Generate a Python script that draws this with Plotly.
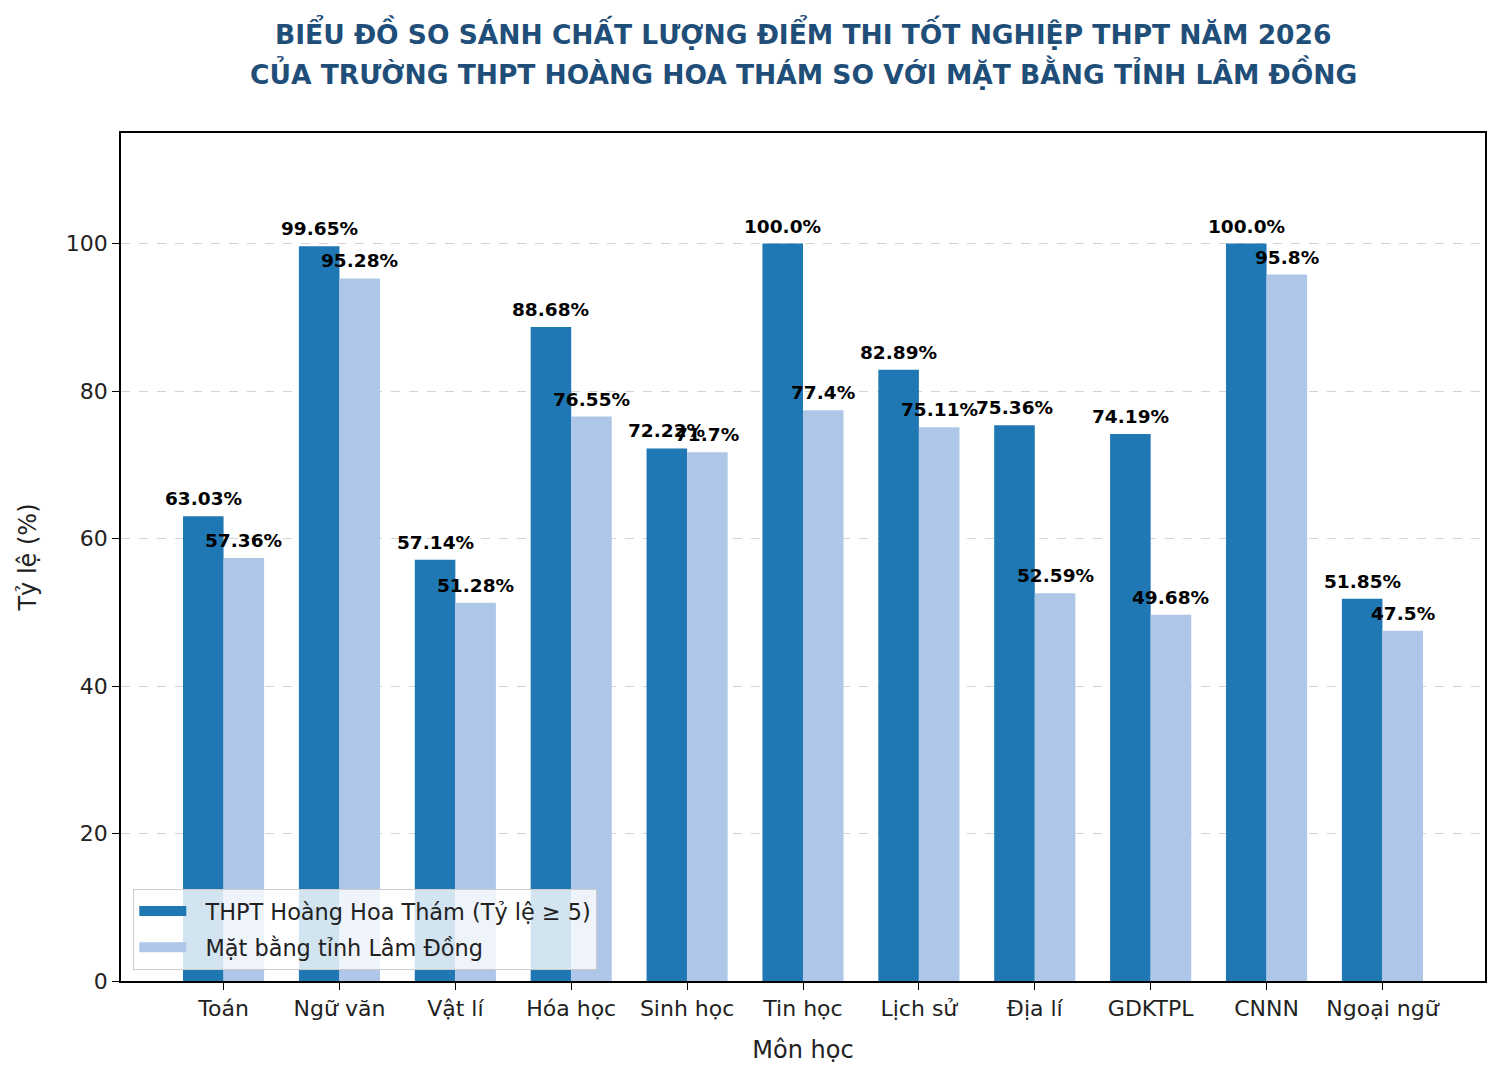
import plotly.graph_objects as go

categories = ["Toán", "Ngữ văn", "Vật lí", "Hóa học", "Sinh học", "Tin học",
              "Lịch sử", "Địa lí", "GDKTPL", "CNNN", "Ngoại ngữ"]
school = [63.03, 99.65, 57.14, 88.68, 72.22, 100.0, 82.89, 75.36, 74.19, 100.0, 51.85]
province = [57.36, 95.28, 51.28, 76.55, 71.7, 77.4, 75.11, 52.59, 49.68, 95.8, 47.5]
yticks = [0, 20, 40, 60, 80, 100]
series_names = ["THPT Hoàng Hoa Thám (Tỷ lệ ≥ 5)", "Mặt bằng tỉnh Lâm Đồng"]
colors = ["#1f77b4", "#aec7e8"]
title_lines = ["BIỂU ĐỒ SO SÁNH CHẤT LƯỢNG ĐIỂM THI TỐT NGHIỆP THPT NĂM 2026",
               "CỦA TRƯỜNG THPT HOÀNG HOA THÁM SO VỚI MẶT BẰNG TỈNH LÂM ĐỒNG"]

W = 0.35
idx = list(range(len(categories)))
x_school = [i - W / 2 for i in idx]
x_prov = [i + W / 2 for i in idx]

FONT = "DejaVu Sans"

fig = go.Figure()
for xs, vals, name, col in ((x_school, school, series_names[0], colors[0]),
                            (x_prov, province, series_names[1], colors[1])):
    fig.add_trace(go.Bar(x=xs, y=vals, width=W, name=name, showlegend=False,
                         marker=dict(color=col, line=dict(width=0))))
# legend entries drawn as wide patches (like matplotlib)
for k, (name, col) in enumerate(zip(series_names, colors)):
    fig.add_trace(go.Scatter(x=[None], y=[None], mode="lines", name="&nbsp;&nbsp;" + name,
                             legendgroup=f"g{k}",
                             line=dict(color=col, width=17)))

for xs, vals in ((x_school, school), (x_prov, province)):
    for x, v in zip(xs, vals):
        fig.add_annotation(x=x, y=v, text=f"<b>{v}%</b>", showarrow=False,
                           xanchor="center", yanchor="bottom", yshift=5,
                           font=dict(family=FONT, size=18.5, color="black"))

for line, ypos in zip(title_lines, [1.119, 1.0716]):
    fig.add_annotation(xref="paper", yref="paper", x=0.5, y=ypos, text=f"<b>{line}</b>",
                       showarrow=False, xanchor="center", yanchor="middle",
                       font=dict(family=FONT, size=26.5, color="#1f4e79"))

fig.update_layout(
    width=1500, height=1077,
    paper_bgcolor="white", plot_bgcolor="white",
    margin=dict(l=121, r=15, t=133, b=96),
    barmode="overlay",
    font=dict(family=FONT, color="black"),
    legend=dict(
        x=0.009, y=0.013, xanchor="left", yanchor="bottom",
        bgcolor="rgba(255,255,255,0.8)", bordercolor="#cccccc", borderwidth=1,
        font=dict(family=FONT, size=22.4, color="#222222"),
        itemwidth=47, tracegroupgap=4,
    ),
    xaxis=dict(
        range=[-0.885, 10.885],
        tickmode="array", tickvals=idx, ticktext=categories,
        ticks="outside", ticklen=7, tickcolor="black",
        showline=True, linecolor="black", linewidth=1.5, mirror=True,
        showgrid=False, zeroline=False,
        tickfont=dict(family=FONT, size=22, color="#222222"),
        title=dict(text="Môn học", font=dict(family=FONT, size=24, color="#222222"), standoff=21),
    ),
    yaxis=dict(
        range=[0, 115],
        tickmode="array", tickvals=yticks,
        ticks="outside", ticklen=7, tickcolor="black",
        showline=True, linecolor="black", linewidth=1.5, mirror=True,
        showgrid=True, gridcolor="#d4d4d4", griddash="dash", gridwidth=1,
        zeroline=False,
        tickfont=dict(family=FONT, size=22, color="#222222"),
        title=dict(text="Tỷ lệ (%)", font=dict(family=FONT, size=24, color="#222222"), standoff=22),
    ),
)

fig.write_html("out.html")
